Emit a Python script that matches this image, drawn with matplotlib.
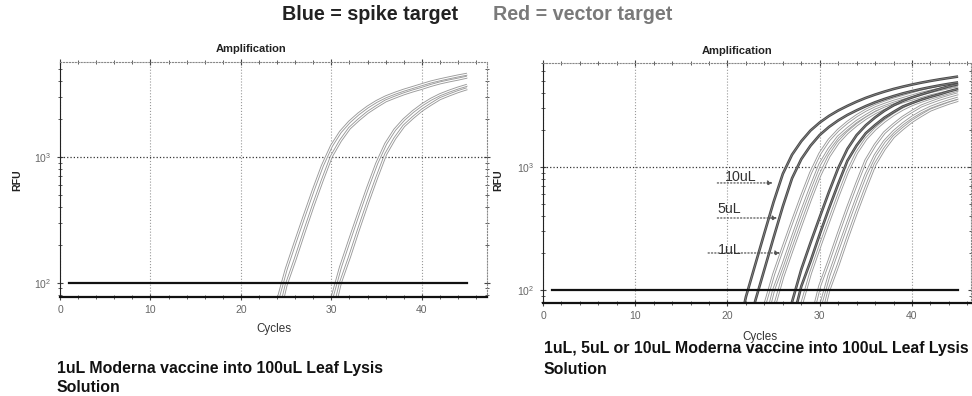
import numpy as np
import matplotlib
matplotlib.use('Agg')
import matplotlib.pyplot as plt
import matplotlib.patheffects as pe
from matplotlib.ticker import LogLocator, MultipleLocator, NullFormatter

plt.rcParams['font.family'] = ['Liberation Sans', 'DejaVu Sans']
plt.rcParams['mathtext.default'] = 'regular'

# RFU, cycles 20..45
cycles = list(range(20, 46))

# left panel: 1uL, spike (blue) and vector (red) replicates
left_spike_a = [2, 3, 10, 30, 70, 128, 210, 340, 545, 850, 1220, 1580, 1900, 2200, 2490, 2760, 3000, 3200, 3390, 3565, 3750, 3940, 4100, 4250, 4400, 4540]
left_spike_b = [1, 2, 5, 17, 48, 96, 154, 254, 413, 653, 1008, 1344, 1690, 1968, 2256, 2515, 2784, 2976, 3168, 3341, 3504, 3696, 3869, 4013, 4147, 4301]
left_vector_a = [1, 1, 1, 1, 1, 1, 2, 3, 10, 31, 73, 133, 218, 354, 567, 884, 1269, 1643, 1976, 2288, 2590, 2870, 3120, 3328, 3526, 3708]
left_vector_b = [1, 1, 1, 1, 1, 1, 1, 2, 5, 18, 50, 100, 160, 265, 430, 680, 1050, 1400, 1760, 2050, 2350, 2620, 2900, 3100, 3300, 3480]

# right panel: 10uL / 5uL / 1uL
spike_10 = [15, 40, 88, 160, 290, 520, 880, 1260, 1620, 1980, 2300, 2600, 2880, 3140, 3400, 3650, 3880, 4100, 4310, 4500, 4680, 4850, 5010, 5160, 5300, 5440]
spike_5 = [5, 14, 37, 81, 147, 267, 478, 810, 1159, 1490, 1822, 2116, 2392, 2650, 2889, 3128, 3358, 3570, 3772, 3965, 4140, 4306, 4462, 4609, 4747, 4876]
spike_1a = [2, 3, 11, 32, 74, 134, 220, 357, 572, 892, 1281, 1659, 1995, 2310, 2614, 2898, 3150, 3360, 3560, 3743, 3938, 4137, 4305, 4462, 4620, 4767]
spike_1b = [1, 2, 5, 18, 50, 100, 160, 265, 430, 680, 1050, 1400, 1760, 2050, 2350, 2620, 2900, 3100, 3300, 3480, 3650, 3850, 4030, 4180, 4320, 4480]
spike_1c = [1, 2, 3, 10, 30, 70, 128, 210, 340, 545, 850, 1220, 1580, 1900, 2200, 2490, 2760, 3000, 3200, 3390, 3565, 3750, 3940, 4100, 4250, 4400]
vector_10 = [1, 1, 1, 2, 3, 12, 35, 80, 147, 242, 391, 627, 978, 1403, 1817, 2185, 2530, 2864, 3174, 3450, 3680, 3899, 4100, 4313, 4531, 4715]
vector_5a = [1, 1, 1, 1, 2, 5, 19, 54, 107, 171, 284, 460, 728, 1124, 1498, 1883, 2194, 2515, 2803, 3103, 3317, 3531, 3724, 3906, 4120, 4312]
vector_5b = [1, 1, 1, 1, 2, 3, 11, 32, 75, 137, 225, 364, 583, 910, 1305, 1691, 2033, 2354, 2664, 2953, 3210, 3424, 3627, 3815, 4013, 4216]
vector_1a = [1, 1, 1, 1, 1, 1, 2, 5, 19, 54, 108, 173, 286, 464, 734, 1134, 1512, 1901, 2214, 2538, 2830, 3132, 3348, 3564, 3758, 3942]
vector_1b = [1, 1, 1, 1, 1, 1, 2, 3, 10, 31, 71, 131, 214, 347, 556, 867, 1244, 1612, 1938, 2244, 2540, 2815, 3060, 3264, 3458, 3636]
vector_1c = [1, 1, 1, 1, 1, 1, 1, 2, 5, 18, 50, 100, 160, 265, 430, 680, 1050, 1400, 1760, 2050, 2350, 2620, 2900, 3100, 3300, 3480]

threshold = 100
thr_cycles = [1, 45]

W, H = 972, 396
fig = plt.figure(figsize=(W / 100, H / 100), dpi=100)


def px(x, y):
    return x / W, 1 - y / H


def curve(ax, vals, dark=False):
    if dark:
        edge, inner, lw, ilw = '#4a4a4a', '#8a8a8a', 1.9, 0.5
    else:
        edge, inner, lw, ilw = '#9a9a9a', '#ffffff', 2.1, 0.8
    ax.plot(cycles, vals, color=inner, lw=ilw, solid_capstyle='butt',
            path_effects=[pe.Stroke(linewidth=lw, foreground=edge), pe.Normal()])


def style_axes(ax, xmax, ylim):
    ax.set_yscale('log')
    ax.set_xlim(0, xmax)
    ax.set_ylim(*ylim)
    ax.xaxis.set_major_locator(MultipleLocator(10))
    ax.xaxis.set_minor_locator(MultipleLocator(2))
    ax.yaxis.set_major_locator(LogLocator(base=10, numticks=5))
    ax.yaxis.set_minor_locator(LogLocator(base=10, subs=np.arange(2, 10), numticks=10))
    ax.yaxis.set_minor_formatter(NullFormatter())
    ax.tick_params(which='both', direction='inout', top=True, right=True,
                   colors='#444', labelcolor='#666', labelsize=7.5)
    ax.tick_params(which='major', length=5, width=0.8)
    ax.tick_params(which='minor', length=3, width=0.6)
    for side in ('top', 'right'):
        ax.spines[side].set_linestyle(':')
        ax.spines[side].set_color('#888')
    ax.spines['left'].set_color('#222')
    ax.spines['bottom'].set_color('#111')
    ax.spines['bottom'].set_linewidth(1.6)
    ax.grid(axis='x', which='major', linestyle=':', color='#999', lw=0.8)
    ax.axhline(1000, linestyle=':', color='#333', lw=0.9)
    ax.plot(thr_cycles, [threshold, threshold], color='#111', lw=1.6, zorder=5)


# left panel
ax1 = fig.add_axes([60 / W, 1 - 297 / H, 427 / W, 235 / H])
style_axes(ax1, 47.2, (77, 5675))
for vals in (left_spike_a, left_spike_b, left_vector_a, left_vector_b):
    curve(ax1, vals)

# right panel
ax2 = fig.add_axes([543 / W, 1 - 303 / H, 428 / W, 240 / H])
style_axes(ax2, 46.4, (78.4, 7010))
for vals in (spike_1a, spike_1b, spike_1c, vector_5b, vector_1a, vector_1b, vector_1c):
    curve(ax2, vals)
for vals in (spike_10, spike_5, vector_10, vector_5a):
    curve(ax2, vals, dark=True)

# dose labels with arrows
doses = ['10uL', '5uL', '1uL']
label_pos = [(19.7, 770), (18.9, 425), (19.0, 196)]
arrow_from = [(18.9, 742), (18.9, 385), (17.9, 200)]
arrow_to = [(24.9, 742), (25.4, 385), (25.7, 200)]
for lab, tp, a0, a1 in zip(doses, label_pos, arrow_from, arrow_to):
    ax2.text(tp[0], tp[1], lab, fontsize=10.3, color='#333', va='baseline', zorder=6)
    ax2.annotate('', xy=a1, xytext=a0,
                 arrowprops=dict(arrowstyle='-|>', linestyle=':', color='#555',
                                 lw=0.9, mutation_scale=7, shrinkA=0, shrinkB=0))

# axis titles / labels placed like the screenshot
fig.text(*px(251, 49), 'Amplification', fontsize=8, weight='bold', ha='center', va='center', color='#222')
fig.text(*px(737, 51), 'Amplification', fontsize=8, weight='bold', ha='center', va='center', color='#222')
fig.text(*px(17, 180), 'RFU', fontsize=7.6, weight='bold', rotation=90, ha='center', va='center', color='#222')
fig.text(*px(498, 180), 'RFU', fontsize=7.6, weight='bold', rotation=90, ha='center', va='center', color='#222')
fig.text(*px(274, 329), 'Cycles', fontsize=8.4, ha='center', va='center', color='#333')
fig.text(*px(760, 337), 'Cycles', fontsize=8.4, ha='center', va='center', color='#333')

# header
fig.text(*px(282, 15), 'Blue = spike target', fontsize=14.2, weight='bold', ha='left', va='center', color='#222')
fig.text(*px(493, 15), 'Red = vector target', fontsize=14.2, weight='bold', ha='left', va='center', color='#7a7a7a')

# captions
fig.text(*px(57, 369), '1uL Moderna vaccine into 100uL Leaf Lysis', fontsize=11.4, weight='bold', ha='left', va='center', color='#111')
fig.text(*px(57, 388), 'Solution', fontsize=11.4, weight='bold', ha='left', va='center', color='#111')
fig.text(*px(544, 349), '1uL, 5uL or 10uL Moderna vaccine into 100uL Leaf Lysis', fontsize=11.4, weight='bold', ha='left', va='center', color='#111')
fig.text(*px(544, 369), 'Solution', fontsize=11.4, weight='bold', ha='left', va='center', color='#111')

plt.savefig('out.png', dpi=100)
